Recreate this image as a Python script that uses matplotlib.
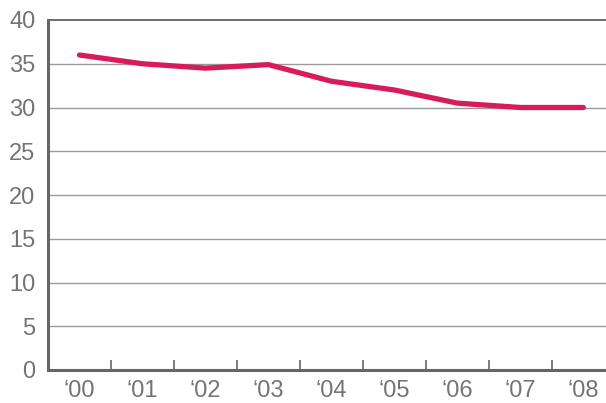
import matplotlib
matplotlib.use("Agg")
import matplotlib.pyplot as plt

years = ["\u201800", "\u201801", "\u201802", "\u201803", "\u201804", "\u201805", "\u201806", "\u201807", "\u201808"]
values = [36.0, 35.0, 34.5, 34.9, 33.0, 32.0, 30.5, 30.0, 30.0]
yticks = [0, 5, 10, 15, 20, 25, 30, 35, 40]

plt.rcParams['font.family'] = ['Liberation Sans', 'DejaVu Sans']

fig = plt.figure(figsize=(6.06, 4.03), dpi=100)
ax = fig.add_axes([48/606, 33/403, 558/606, 350/403])

x = list(range(len(values)))
ax.plot(x, values, color="#d81b5c", linewidth=3.8, solid_capstyle="round", solid_joinstyle="round", zorder=3)

ax.set_ylim(0, 40)
ax.set_xlim(-0.5, 8.36)
ax.set_yticks(yticks)
ax.set_yticklabels([str(v) for v in yticks])
for v in yticks[1:-1]:
    ax.axhline(v, color="#9a9a9a", linewidth=1.0, zorder=1)
ax.axhline(40, color="#555555", linewidth=1.2, zorder=1, clip_on=False)

ax.set_xticks([i + 0.5 for i in range(len(values) - 1)])
ax.set_xticklabels([])
ax.set_xticks(x, minor=True)
ax.set_xticklabels(years, minor=True)
ax.tick_params(axis='x', which='major', direction='in', length=7, width=1.2, color="#666666")
ax.tick_params(axis='x', which='minor', length=0, pad=7, labelsize=17, labelcolor="#747474")
ax.tick_params(axis='y', length=0, pad=9, labelsize=17, labelcolor="#747474")

for s in ["top", "right"]:
    ax.spines[s].set_visible(False)
for s in ["left", "bottom"]:
    ax.spines[s].set_color("#666666")
    ax.spines[s].set_linewidth(2.2)

fig.savefig("out.png", dpi=100)
